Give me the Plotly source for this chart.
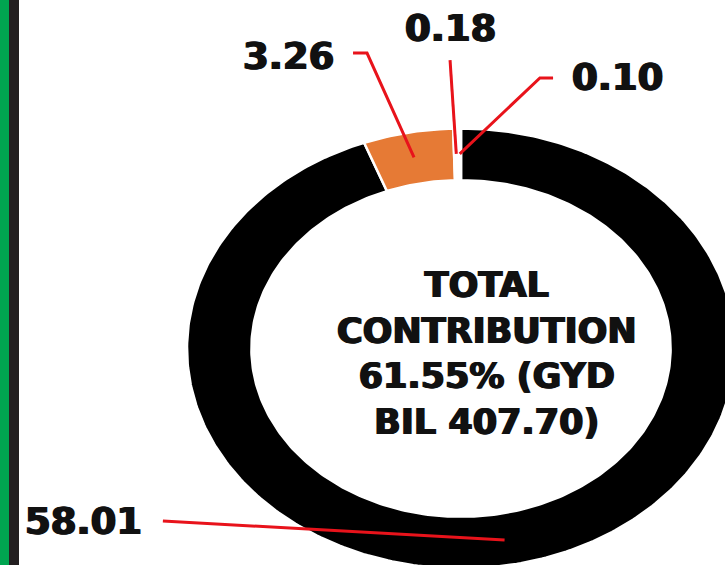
import numpy as np
import plotly.graph_objects as go

# ---- data ----
slice_names = ["Largest share", "Second share", "Third share", "Fourth share"]
slice_values = [58.01, 3.26, 0.18, 0.10]
slice_labels = ["58.01", "3.26", "0.18", "0.10"]
center_lines = ["TOTAL", "CONTRIBUTION", "61.55% (GYD", "BIL 407.70)"]

# ---- style ----
slice_colors = ["#000000", "#E67A35", "#FFFFFF", "#FFFFFF"]
leader_color = "#E8131B"
HOLE = 0.765
ANCHOR_R = 0.885
# label text positions and leader elbows (ring-unit coordinates)
label_pos = [(-1.376, -0.786), (-0.628, 1.328), (-0.040, 1.455), (0.572, 1.232)]
leader_elbows = [
    [(-1.088, -0.784)],
    [(-0.394, 1.343), (-0.343, 1.343)],
    [(-0.040, 1.311)],
    [(0.336, 1.230), (0.288, 1.230)],
]
heavy = "0.9px 0 0 #111111, -0.9px 0 0 #111111"

W, H = 725, 565
CX, CY = 461.0, 348.5       # ring centre in pixels
RX, RY = 274.0, 220.0       # outer radii in pixels (ring is stretched)

x_range = [(0 - CX) / RX, (W - CX) / RX]
y_range = [(CY - H) / RY, (CY - 0) / RY]

fig = go.Figure()

total = sum(slice_values)
cum = np.cumsum([0] + slice_values)
mid_angles = []
for i, v in enumerate(slice_values):
    a0 = cum[i] / total * 2 * np.pi
    a1 = cum[i + 1] / total * 2 * np.pi
    n = max(8, int(400 * v / total))
    th = np.linspace(a0, a1, n)
    xo, yo = np.sin(th), np.cos(th)
    xi, yi = HOLE * np.sin(th[::-1]), HOLE * np.cos(th[::-1])
    xs = np.concatenate([xo, xi, xo[:1]])
    ys = np.concatenate([yo, yi, yo[:1]])
    fig.add_trace(go.Scatter(
        x=xs, y=ys, mode="lines", fill="toself",
        fillcolor=slice_colors[i],
        line=dict(color="#FFFFFF", width=2.5),
        name=slice_names[i], hoverinfo="skip", showlegend=False,
    ))
    mid_angles.append((a0 + a1) / 2)

# leader lines (end at each slice's mid-angle)
for i, m in enumerate(mid_angles):
    ax, ay = ANCHOR_R * np.sin(m), ANCHOR_R * np.cos(m)
    pts = leader_elbows[i] + [(ax, ay)]
    fig.add_trace(go.Scatter(
        x=[p[0] for p in pts], y=[p[1] for p in pts], mode="lines",
        line=dict(color=leader_color, width=3),
        hoverinfo="skip", showlegend=False,
    ))

for i, t in enumerate(slice_labels):
    fig.add_annotation(
        x=label_pos[i][0], y=label_pos[i][1], text="<b>" + t + "</b>",
        showarrow=False, xanchor="center", yanchor="middle",
        font=dict(family="DejaVu Sans", size=37, color="#111111", shadow=heavy),
    )

fig.add_annotation(
    x=(486.5 - CX) / RX, y=(CY - 353.5) / RY,
    text="<b>" + "<br>".join(center_lines) + "</b>",
    showarrow=False, xanchor="center", yanchor="middle", align="center",
    font=dict(family="DejaVu Sans", size=35, color="#111111", shadow=heavy),
)

# left decorative border strips
fig.add_shape(type="rect", xref="paper", yref="paper", x0=0, x1=9 / W, y0=0, y1=1,
              fillcolor="#00A550", line=dict(width=0), layer="above")
fig.add_shape(type="rect", xref="paper", yref="paper", x0=9 / W, x1=19 / W, y0=0, y1=1,
              fillcolor="#231F20", line=dict(width=0), layer="above")

fig.update_xaxes(range=x_range, visible=False, showgrid=False, zeroline=False, fixedrange=True)
fig.update_yaxes(range=y_range, visible=False, showgrid=False, zeroline=False, fixedrange=True)
fig.update_layout(
    width=W, height=H, margin=dict(l=0, r=0, t=0, b=0),
    paper_bgcolor="#FFFFFF", plot_bgcolor="#FFFFFF",
    showlegend=False, hovermode=False,
)

fig.write_html(
    "out.html",
    config={"displayModeBar": False, "staticPlot": True},
    post_script="document.body.style.margin='0';document.body.style.overflow='hidden';",
)
